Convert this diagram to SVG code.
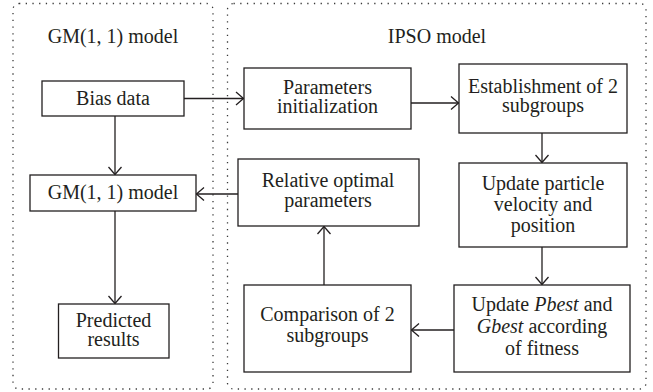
<svg xmlns="http://www.w3.org/2000/svg" width="653" height="392" viewBox="0 0 653 392" font-family="'Liberation Serif', Tinos, 'Times New Roman', 'DejaVu Serif', 'Noto Serif', serif">
  <style>
    .frame { fill: none; stroke: #3a3a3a; stroke-width: 1.3; stroke-dasharray: 1.3 5.4; stroke-linecap: butt; }
    .box { fill: #ffffff; stroke: #231f20; stroke-width: 1.3; }
    .link { fill: none; stroke: #231f20; stroke-width: 1.3; }
    text { font-family: 'Liberation Serif', Tinos, 'Times New Roman', 'DejaVu Serif', 'Noto Serif', serif; font-size: 20px; fill: #231f20; text-anchor: middle; }
    .it { font-style: italic; }
  </style>
  <defs>
    <marker id="head" markerUnits="userSpaceOnUse" markerWidth="12" markerHeight="16" viewBox="-9 -8 10 16" refX="0" refY="0" orient="auto">
      <path d="M-7.5,-6.5 L0,0 L-7.5,6.5" fill="none" stroke="#231f20" stroke-width="1.3"/>
    </marker>
  </defs>

  <!-- model frames -->
  <g id="frame-gm">
    <rect class="frame" x="13" y="3.5" width="200" height="385.5" rx="6"/>
    <text x="113" y="43">GM(1, 1) model</text>
  </g>
  <g id="frame-ipso">
    <rect class="frame" x="227.5" y="3.5" width="418.5" height="385.5" rx="6"/>
    <text x="437" y="43">IPSO model</text>
  </g>

  <!-- connectors -->
  <g id="connectors">
    <line class="link" x1="184" y1="98.5" x2="243.5" y2="98.5" marker-end="url(#head)"/>
    <line class="link" x1="115" y1="116" x2="115" y2="174.5" marker-end="url(#head)"/>
    <line class="link" x1="115" y1="211" x2="115" y2="303.5" marker-end="url(#head)"/>
    <line class="link" x1="411" y1="103" x2="458.5" y2="103" marker-end="url(#head)"/>
    <line class="link" x1="542" y1="133" x2="542" y2="162.5" marker-end="url(#head)"/>
    <line class="link" x1="542" y1="247" x2="542" y2="284.5" marker-end="url(#head)"/>
    <line class="link" x1="454" y1="330" x2="411.5" y2="330" marker-end="url(#head)"/>
    <line class="link" x1="324" y1="285" x2="324" y2="226.5" marker-end="url(#head)"/>
    <line class="link" x1="238" y1="194" x2="196.5" y2="194" marker-end="url(#head)"/>
  </g>

  <!-- nodes -->
  <g id="bias-data">
    <rect class="box" x="42" y="81" width="142" height="35"/>
    <text x="113" y="104.5">Bias data</text>
  </g>
  <g id="gm-model">
    <rect class="box" x="30" y="175" width="166" height="36"/>
    <text x="113" y="198.5">GM(1, 1) model</text>
  </g>
  <g id="predicted-results">
    <rect class="box" x="58.5" y="304" width="110.5" height="54"/>
    <text x="113.5" y="326.5">Predicted</text>
    <text x="113.5" y="345.5">results</text>
  </g>
  <g id="parameters-initialization">
    <rect class="box" x="244" y="68" width="167" height="61"/>
    <text x="327.5" y="93.5">Parameters</text>
    <text x="327.5" y="112.5">initialization</text>
  </g>
  <g id="establishment">
    <rect class="box" x="459" y="64" width="168" height="69"/>
    <text x="543" y="92.5">Establishment of 2</text>
    <text x="543" y="111.5">subgroups</text>
  </g>
  <g id="update-velocity">
    <rect class="box" x="459" y="163" width="168" height="84"/>
    <text x="543" y="190">Update particle</text>
    <text x="543" y="211">velocity and</text>
    <text x="543" y="232">position</text>
  </g>
  <g id="update-best">
    <rect class="box" x="454" y="285" width="176" height="87"/>
    <text x="542" y="311">Update <tspan class="it">Pbest</tspan> and</text>
    <text x="542" y="333"><tspan class="it">Gbest</tspan> according</text>
    <text x="542" y="355">of fitness</text>
  </g>
  <g id="comparison">
    <rect class="box" x="244" y="285" width="167" height="87"/>
    <text x="327.5" y="321">Comparison of 2</text>
    <text x="327.5" y="342">subgroups</text>
  </g>
  <g id="relative-optimal">
    <rect class="box" x="238" y="159" width="181" height="67"/>
    <text x="328" y="187">Relative optimal</text>
    <text x="328" y="206.5">parameters</text>
  </g>
</svg>
